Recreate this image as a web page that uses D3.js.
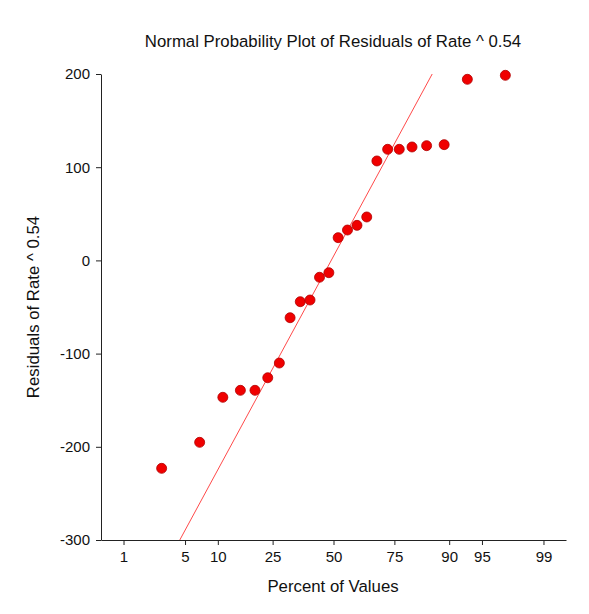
<!DOCTYPE html>
<html><head><meta charset="utf-8">
<script src="https://cdn.jsdelivr.net/npm/d3@7"></script>
<style>
body{margin:0;background:#fff}
text{font-family:"Liberation Sans",Arial,sans-serif;fill:#111}
</style>
</head><body>
<svg id="c" width="589" height="614"></svg>
<script>
// ---- data ----
const percents = [2.846, 6.905, 11.010, 15.114, 19.218, 23.322, 27.427, 31.531, 35.635, 39.739, 43.844, 47.948,
                  52.052, 56.156, 60.261, 64.365, 68.469, 72.573, 76.678, 80.782, 84.886, 88.990, 93.095, 97.154];
const residuals = [-223.1, -195.2, -146.9, -139.4, -139.4, -125.9, -110.1, -61.5, -44.3, -42.5, -18.1, -13.2,
                   24.4, 32.6, 37.6, 46.6, 106.7, 119.2, 119.2, 121.7, 123.1, 124.2, 194.3, 198.6];
const xTickLabels = [1, 5, 10, 25, 50, 75, 90, 95, 99];
const yTickLabels = [-300, -200, -100, 0, 100, 200];
const xDomainPercent = [0.5, 99.5];
const yDomain = [-300, 200];
const refLine = [4.5, 178.8]; // intercept, slope (per normal score)
const titleText = "Normal Probability Plot of Residuals of Rate ^ 0.54";
const xTitle = "Percent of Values";
const yTitle = "Residuals of Rate ^ 0.54";

// inverse normal CDF (Acklam)
function probit(p){
  const a=[-3.969683028665376e+01,2.209460984245205e+02,-2.759285104469687e+02,1.383577518672690e+02,-3.066479806614716e+01,2.506628277459239e+00];
  const b=[-5.447609879822406e+01,1.615858368580409e+02,-1.556989798598866e+02,6.680131188771972e+01,-1.328068155288572e+01];
  const c=[-7.784894002430293e-03,-3.223964580411365e-01,-2.400758277161838e+00,-2.549732539343734e+00,4.374664141464968e+00,2.938163982698783e+00];
  const d=[7.784695709041462e-03,3.224671290700398e-01,2.445134137142996e+00,3.754408661907416e+00];
  const pl=0.02425, ph=1-pl; let q,r;
  if(p<pl){q=Math.sqrt(-2*Math.log(p));return (((((c[0]*q+c[1])*q+c[2])*q+c[3])*q+c[4])*q+c[5])/((((d[0]*q+d[1])*q+d[2])*q+d[3])*q+1);}
  if(p<=ph){q=p-0.5;r=q*q;return (((((a[0]*r+a[1])*r+a[2])*r+a[3])*r+a[4])*r+a[5])*q/(((((b[0]*r+b[1])*r+b[2])*r+b[3])*r+b[4])*r+1);}
  q=Math.sqrt(-2*Math.log(1-p));return -(((((c[0]*q+c[1])*q+c[2])*q+c[3])*q+c[4])*q+c[5])/((((d[0]*q+d[1])*q+d[2])*q+d[3])*q+1);
}

const L=101, R=566, T=74, B=540;
const svg=d3.select("#c");
const zx=d3.scaleLinear().domain(xDomainPercent.map(p=>probit(p/100))).range([L,R]);
const y=d3.scaleLinear().domain(yDomain).range([B,T]);
const xp=p=>zx(probit(p/100));

svg.append("text").attr("x",333).attr("y",47).attr("text-anchor","middle")
  .style("font-size","16.8px").text(titleText);

const xAxis=d3.axisBottom(zx).tickValues(xTickLabels.map(p=>probit(p/100)))
  .tickFormat((d,i)=>String(xTickLabels[i])).tickSize(5).tickSizeOuter(0).tickPadding(6);
const gx=svg.append("g").attr("transform",`translate(0,${B})`).call(xAxis);
const yAxis=d3.axisLeft(y).tickValues(yTickLabels).tickFormat(d=>String(d)).tickSize(5).tickSizeOuter(0).tickPadding(6);
const gy=svg.append("g").attr("transform",`translate(${L},0)`).call(yAxis);
[gx,gy].forEach(g=>{
  g.selectAll("text").style("font-size","15px").style("font-family",'"Liberation Sans",Arial,sans-serif').attr("fill","#111");
  g.selectAll("line,path").attr("stroke","#222");
});

svg.append("text").attr("x",333).attr("y",592).attr("text-anchor","middle")
  .style("font-size","16.8px").text(xTitle);
svg.append("text").attr("transform",`translate(39,${(T+B)/2}) rotate(-90)`).attr("text-anchor","middle")
  .style("font-size","16.8px").text(yTitle);

svg.append("clipPath").attr("id","clip").append("rect").attr("x",L).attr("y",T).attr("width",R-L).attr("height",B-T);
const zs=[zx.domain()[0],zx.domain()[1]];
svg.append("line").attr("clip-path","url(#clip)")
  .attr("x1",zx(zs[0])).attr("y1",y(refLine[0]+refLine[1]*zs[0]))
  .attr("x2",zx(zs[1])).attr("y2",y(refLine[0]+refLine[1]*zs[1]))
  .attr("stroke","#ff4a4a").attr("stroke-width",1);

svg.append("g").selectAll("circle").data(percents).join("circle")
  .attr("cx",d=>xp(d)).attr("cy",(d,i)=>y(residuals[i])).attr("r",5)
  .attr("fill","#f00000").attr("stroke","#b00000").attr("stroke-width",0.8);
</script>
</body></html>
